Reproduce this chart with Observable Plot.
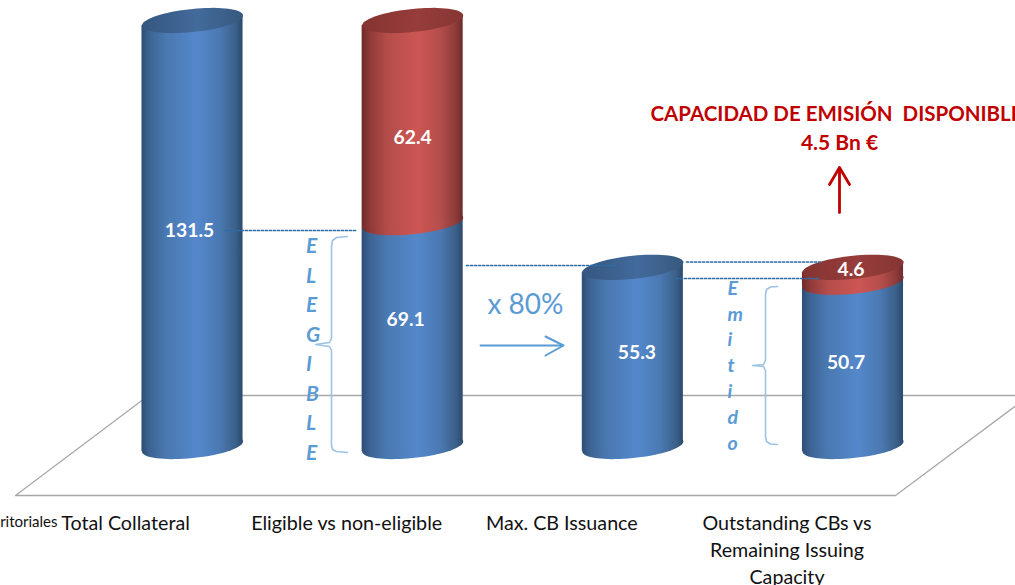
<!DOCTYPE html>
<html>
<head>
<meta charset="utf-8">
<script src="https://cdn.jsdelivr.net/npm/d3@7"></script>
<script src="https://cdn.jsdelivr.net/npm/@observablehq/plot@0.6"></script>
<style>
html,body{margin:0;padding:0;background:#fff;overflow:hidden}
</style>
</head>
<body>
<svg width="0" height="0" style="position:absolute">
  <defs>
    <linearGradient id="blueSide" x1="0" x2="1" y1="0" y2="0">
      <stop offset="0" stop-color="#2c4d74"/><stop offset="0.08" stop-color="#3c6493"/>
      <stop offset="0.25" stop-color="#4a79b2"/><stop offset="0.55" stop-color="#5488cb"/>
      <stop offset="0.78" stop-color="#4a78b1"/><stop offset="0.93" stop-color="#3b6089"/>
      <stop offset="1" stop-color="#2b4a6e"/>
    </linearGradient>
    <linearGradient id="redSide" x1="0" x2="1" y1="0" y2="0">
      <stop offset="0" stop-color="#6f2a29"/><stop offset="0.08" stop-color="#8f3a38"/>
      <stop offset="0.25" stop-color="#b44d4a"/><stop offset="0.55" stop-color="#cd5654"/>
      <stop offset="0.78" stop-color="#b44e4b"/><stop offset="0.93" stop-color="#8d3b39"/>
      <stop offset="1" stop-color="#6d2b2a"/>
    </linearGradient>
    <linearGradient id="blueTop" x1="0" x2="1" y1="0" y2="0">
      <stop offset="0" stop-color="#345780"/><stop offset="0.55" stop-color="#426a9b"/><stop offset="1" stop-color="#37597f"/>
    </linearGradient>
    <linearGradient id="redTop" x1="0" x2="1" y1="0" y2="0">
      <stop offset="0" stop-color="#843432"/><stop offset="0.55" stop-color="#973d3b"/><stop offset="1" stop-color="#853634"/>
    </linearGradient>
  </defs>
</svg>
<div id="chart"></div>
<script>
const categories = ["Total Collateral", "Eligible vs non-eligible", "Max. CB Issuance", "Outstanding CBs vs\nRemaining Issuing\nCapacity"];
const blueValues = [131.5, 69.1, 55.3, 50.7];
const redValues = [0, 62.4, 0, 4.6];
const eligibleLetters = ["E","L","E","G","I","B","L","E"];
const emittedLetters = ["E","m","i","t","i","d","o"];

const rows = categories.map((cat, i) => ({i, cat, blue: blueValues[i], red: redValues[i], total: blueValues[i] + redValues[i]}));
const redRows = rows.filter(d => d.red > 0);

// Cylinder geometry expressed in scale units: half width and end tilt
const halfWidth = 50.5 / 220;
const tilt = 5 / (426 / 131.5);

// Side wall of a cylinder segment: two ends of a sloped band
const wall = (data, from, to) => data.flatMap(d => [-1, 1].map(s => ({
  id: d.i, x: d.i + s * halfWidth, y1: from(d) + s * tilt, y2: to(d) + s * tilt
})));

// Tilted cylinder end, drawn as a Plot dot symbol
const capSymbol = {draw(ctx) {
  for (let k = 0; k <= 72; k++) {
    const t = k / 72 * 2 * Math.PI;
    const px = 50.5 * Math.cos(t), py = 11.6 * Math.sin(t) - 5 * Math.cos(t);
    k ? ctx.lineTo(px, py) : ctx.moveTo(px, py);
  }
  ctx.closePath();
}};

// Annotation helper: literal pixel positions, not data
const lit = pts => ({x: {value: pts.map(p => p[0]), scale: null}, y: {value: pts.map(p => p[1]), scale: null}});
const seq = pts => pts.map((_, i) => i);

const floor = [[15,495],[895,495],[1029,395],[148,395],[15,495]];
const dots = [
  [[225,230],[357,230]],
  [[466,265],[615,265]],
  [[686,261.5],[820,261.5]],
  [[676,278],[820,278]]
];
const brace1 = [[347,236],[336,237],[332,240],[331,246],[331,338],[329,342],[315,344],[329,346],[331,350],[331,445],[332,449],[336,451],[347,452]];
const brace2 = [[777,286],[770,286.5],[766,289],[765,294],[765,360],[763,364],[752,365],[763,366],[765,370],[765,436],[766,441],[770,443.5],[777,444]];
const blueArrow = [[[480,345],[562,345]],[[545,336],[563,345],[545,355]]];
const redArrow = [[[839,212],[839,168]],[[829,184],[839,167],[849,184]]];

const lineOf = (pts, o) => Plot.line(seq(pts), {...lit(pts), curve: "linear", ...o});
const textAt = (str, px, py, o) => Plot.text([str], {text: d => d, ...lit([[px, py]]), fontFamily: "Lato", ...o});
const valueLabel = (data, text, y, dx, dy) => Plot.text(data, {x: "i", y, text, dx, dy, fill: "white", fontFamily: "Lato", fontWeight: 700, fontSize: 19.3});
const wallMark = (data, from, to, fill) => Plot.area(wall(data, from, to), {x1: "x", y1: "y1", y2: "y2", z: "id", fill});
const axisFor = (ticks, dx) => Plot.axisX({anchor: "bottom", ticks, tickFormat: i => categories[i], tickSize: 0, tickPadding: 0, dx, label: null, fontSize: 19.7, lineHeight: 1.37, lineAnchor: "top", fill: "#111", fontFamily: "Lato"});

const blueTint = "#5b9bd5";
const dotStyle = {stroke: "#2e6ca6", strokeWidth: 1.7, strokeDasharray: "2 2"};
const chart = Plot.plot({
  width: 1015, height: 585,
  marginTop: 0, marginRight: 0, marginBottom: 75, marginLeft: 0,
  style: {display: "block", background: "white", fontFamily: "Lato"},
  x: {type: "linear", domain: [0, 3], range: [192, 852.5], axis: null},
  y: {type: "linear", domain: [0, 131.5], range: [446, 20], axis: null},
  marks: [
    lineOf(floor, {stroke: "#a8a8a8", strokeWidth: 1.3}),
    textAt("ritoriales", 57, 522, {textAnchor: "end", fontSize: 15, fill: "#111"}),
    axisFor([0], -67),
    axisFor([1], -66),
    axisFor([2], -71),
    axisFor([3], -66),

    // cylinders: blue body
    Plot.dot(rows, {x: "i", y: () => 0, symbol: capSymbol, fill: "url(#blueSide)"}),
    wallMark(rows, () => 0, d => d.blue, "url(#blueSide)"),
    Plot.dot(rows.filter(d => d.red === 0), {x: "i", y: "blue", symbol: capSymbol, fill: "url(#blueTop)"}),
    // red section stacked on top of the blue one
    Plot.dot(redRows, {x: "i", y: "blue", symbol: capSymbol, fill: "url(#redSide)"}),
    wallMark(redRows, d => d.blue, d => d.total, "url(#redSide)"),
    Plot.dot(redRows, {x: "i", y: "total", symbol: capSymbol, fill: "url(#redTop)"}),

    // value labels
    valueLabel(rows.slice(0,1), d => d.blue.toFixed(1), d => d.blue / 2, -3, -3),
    valueLabel(rows.slice(1,2), d => d.blue.toFixed(1), d => d.blue / 2, -7, -15),
    valueLabel(rows.slice(2,3), d => d.blue.toFixed(1), d => d.blue / 2, 4, -4),
    valueLabel(rows.slice(3,4), d => d.blue.toFixed(1), d => d.blue / 2, -7, -2),
    valueLabel(rows.slice(1,2), d => d.red.toFixed(1), d => d.blue + d.red / 2, 0, 16),
    valueLabel(rows.slice(3,4), d => d.red.toFixed(1), d => d.blue + d.red / 2, -2, -5),

    // dotted guides
    ...dots.map(p => lineOf(p, dotStyle)),

    // vertical words and braces
    ...eligibleLetters.map((c, i) => textAt(c, 305.5, 246 + i * 29.5, {textAnchor: "start", fontSize: 21, fontWeight: 700, fontStyle: "italic", fill: blueTint})),
    lineOf(brace1, {stroke: "#9cc2e5", strokeWidth: 1.6}),
    ...emittedLetters.map((c, i) => textAt(c, 727, 288 + i * 25.8, {textAnchor: "start", fontSize: 19.5, fontWeight: 700, fontStyle: "italic", fill: blueTint})),
    lineOf(brace2, {stroke: "#9cc2e5", strokeWidth: 1.6}),

    // x 80% arrow
    textAt("x 80%", 487, 305, {textAnchor: "start", fontSize: 28, fill: blueTint}),
    ...blueArrow.map(p => lineOf(p, {stroke: blueTint, strokeWidth: 2})),

    // capacity callout
    textAt("CAPACIDAD DE EMISIÓN  DISPONIBLE", 650, 114, {textAnchor: "start", fontSize: 20.5, fontWeight: 700, fill: "#c00000"}),
    textAt("4.5 Bn €", 839, 143, {fontSize: 21, fontWeight: 700, fill: "#c00000"}),
    ...redArrow.map(p => lineOf(p, {stroke: "#c00000", strokeWidth: 2.8}))
  ]
});
document.getElementById("chart").append(chart);
</script>
</body>
</html>
